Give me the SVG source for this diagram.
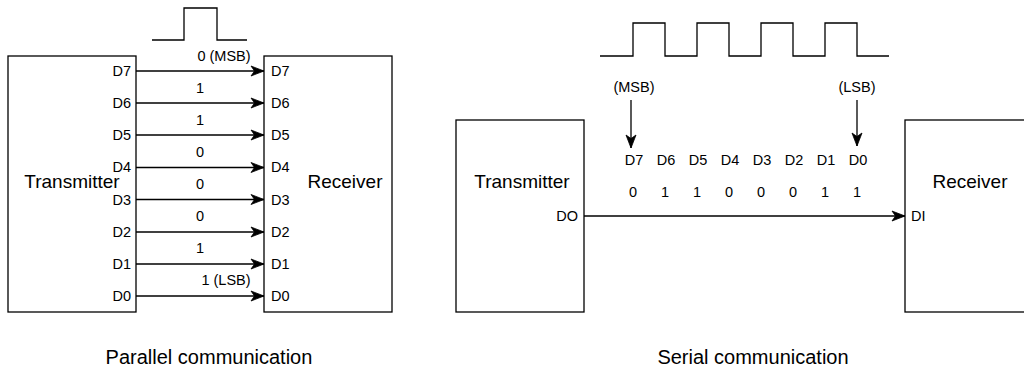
<svg xmlns="http://www.w3.org/2000/svg" width="1024" height="369" viewBox="0 0 1024 369">
  <style>
    .box { fill: #ffffff; stroke: #000000; stroke-width: 1.3; }
    .wire { fill: none; stroke: #000000; stroke-width: 1.3; }
    .wave { fill: none; stroke: #000000; stroke-width: 1.3; }
    text { font-family: "Liberation Sans", Arial, Helvetica, sans-serif; fill: #000000; }
    .pin { font-size: 14.5px; }
    .val { font-size: 14.5px; text-anchor: middle; }
    .big { font-size: 19px; text-anchor: middle; }
    .title { font-size: 20px; text-anchor: middle; }
    .r { text-anchor: end; }
    .m { text-anchor: middle; }
  </style>
  <defs>
    <marker id="arrow" viewBox="-14 -6 15 12" refX="0" refY="0" markerWidth="15" markerHeight="12" markerUnits="userSpaceOnUse" orient="auto">
      <path d="M0,0 L-13,-5 L-9.5,0 L-13,5 Z" fill="#000000" stroke="#000000" stroke-width="0.8" stroke-linejoin="miter"/>
    </marker>
  </defs>
  <rect width="1024" height="369" fill="#ffffff"/>

  <!-- Parallel: clock pulse -->
  <path id="parallel-pulse" class="wave" d="M152,40 H184 V8 H217 V40 H247"/>

  <g id="parallel-transmitter">
    <rect class="box" x="8" y="56" width="128" height="256"/>
    <text class="big" x="72" y="188">Transmitter</text>
    <text class="pin r" x="131" y="76">D7</text>
    <text class="pin r" x="131" y="108">D6</text>
    <text class="pin r" x="131" y="140">D5</text>
    <text class="pin r" x="131" y="172">D4</text>
    <text class="pin r" x="131" y="205">D3</text>
    <text class="pin r" x="131" y="237">D2</text>
    <text class="pin r" x="131" y="269">D1</text>
    <text class="pin r" x="131" y="301">D0</text>
  </g>

  <g id="parallel-receiver">
    <rect class="box" x="264" y="56" width="128" height="256"/>
    <text class="big" x="345" y="188">Receiver</text>
    <text class="pin" x="271" y="76">D7</text>
    <text class="pin" x="271" y="108">D6</text>
    <text class="pin" x="271" y="140">D5</text>
    <text class="pin" x="271" y="172">D4</text>
    <text class="pin" x="271" y="205">D3</text>
    <text class="pin" x="271" y="237">D2</text>
    <text class="pin" x="271" y="269">D1</text>
    <text class="pin" x="271" y="301">D0</text>
  </g>

  <!-- Serial: clock -->
  <path id="serial-clock" class="wave" d="M600,56 H633 V23 H665 V56 H697 V23 H729 V56 H761 V23 H793 V56 H825 V23 H857 V56 H889"/>

  <g id="serial-transmitter">
    <rect class="box" x="456" y="120" width="128" height="192"/>
    <text class="big" x="522" y="188">Transmitter</text>
    <text class="pin r" x="578" y="221">DO</text>
  </g>

  <g id="serial-receiver">
    <rect class="box" x="905" y="120" width="128" height="192"/>
    <text class="big" x="970" y="188">Receiver</text>
    <text class="pin" x="911" y="221">DI</text>
  </g>

  <g id="serial-bits">
    <text class="pin m" x="634" y="164.5">D7</text>
    <text class="pin m" x="666" y="164.5">D6</text>
    <text class="pin m" x="698" y="164.5">D5</text>
    <text class="pin m" x="730" y="164.5">D4</text>
    <text class="pin m" x="762" y="164.5">D3</text>
    <text class="pin m" x="794" y="164.5">D2</text>
    <text class="pin m" x="826" y="164.5">D1</text>
    <text class="pin m" x="858" y="164.5">D0</text>
    <text class="val" x="633" y="196.5">0</text>
    <text class="val" x="665" y="196.5">1</text>
    <text class="val" x="697" y="196.5">1</text>
    <text class="val" x="729" y="196.5">0</text>
    <text class="val" x="761" y="196.5">0</text>
    <text class="val" x="793" y="196.5">0</text>
    <text class="val" x="825" y="196.5">1</text>
    <text class="val" x="857" y="196.5">1</text>
    <text class="val" x="634" y="92">(MSB)</text>
    <text class="val" x="857" y="92">(LSB)</text>
  </g>

  <g id="connectors">
    <line class="wire" x1="136" y1="71" x2="264" y2="71" marker-end="url(#arrow)"/>
    <line class="wire" x1="136" y1="103" x2="264" y2="103" marker-end="url(#arrow)"/>
    <line class="wire" x1="136" y1="135" x2="264" y2="135" marker-end="url(#arrow)"/>
    <line class="wire" x1="136" y1="167.5" x2="264" y2="167.5" marker-end="url(#arrow)"/>
    <line class="wire" x1="136" y1="199.5" x2="264" y2="199.5" marker-end="url(#arrow)"/>
    <line class="wire" x1="136" y1="232" x2="264" y2="232" marker-end="url(#arrow)"/>
    <line class="wire" x1="136" y1="264" x2="264" y2="264" marker-end="url(#arrow)"/>
    <line class="wire" x1="136" y1="296" x2="264" y2="296" marker-end="url(#arrow)"/>
    <text class="val" x="224" y="61">0 (MSB)</text>
    <text class="val" x="200" y="92.5">1</text>
    <text class="val" x="200" y="124.5">1</text>
    <text class="val" x="200" y="156.5">0</text>
    <text class="val" x="200" y="188.5">0</text>
    <text class="val" x="200" y="220.5">0</text>
    <text class="val" x="200" y="252.5">1</text>
    <text class="val" x="226" y="285">1 (LSB)</text>
    <line class="wire" x1="584" y1="216" x2="905" y2="216" marker-end="url(#arrow)"/>
    <line class="wire" x1="631" y1="100" x2="631" y2="148" marker-end="url(#arrow)"/>
    <line class="wire" x1="857" y1="100" x2="857" y2="146" marker-end="url(#arrow)"/>
  </g>

  <text class="title" x="209" y="364">Parallel communication</text>
  <text class="title" x="753" y="364">Serial communication</text>
</svg>
